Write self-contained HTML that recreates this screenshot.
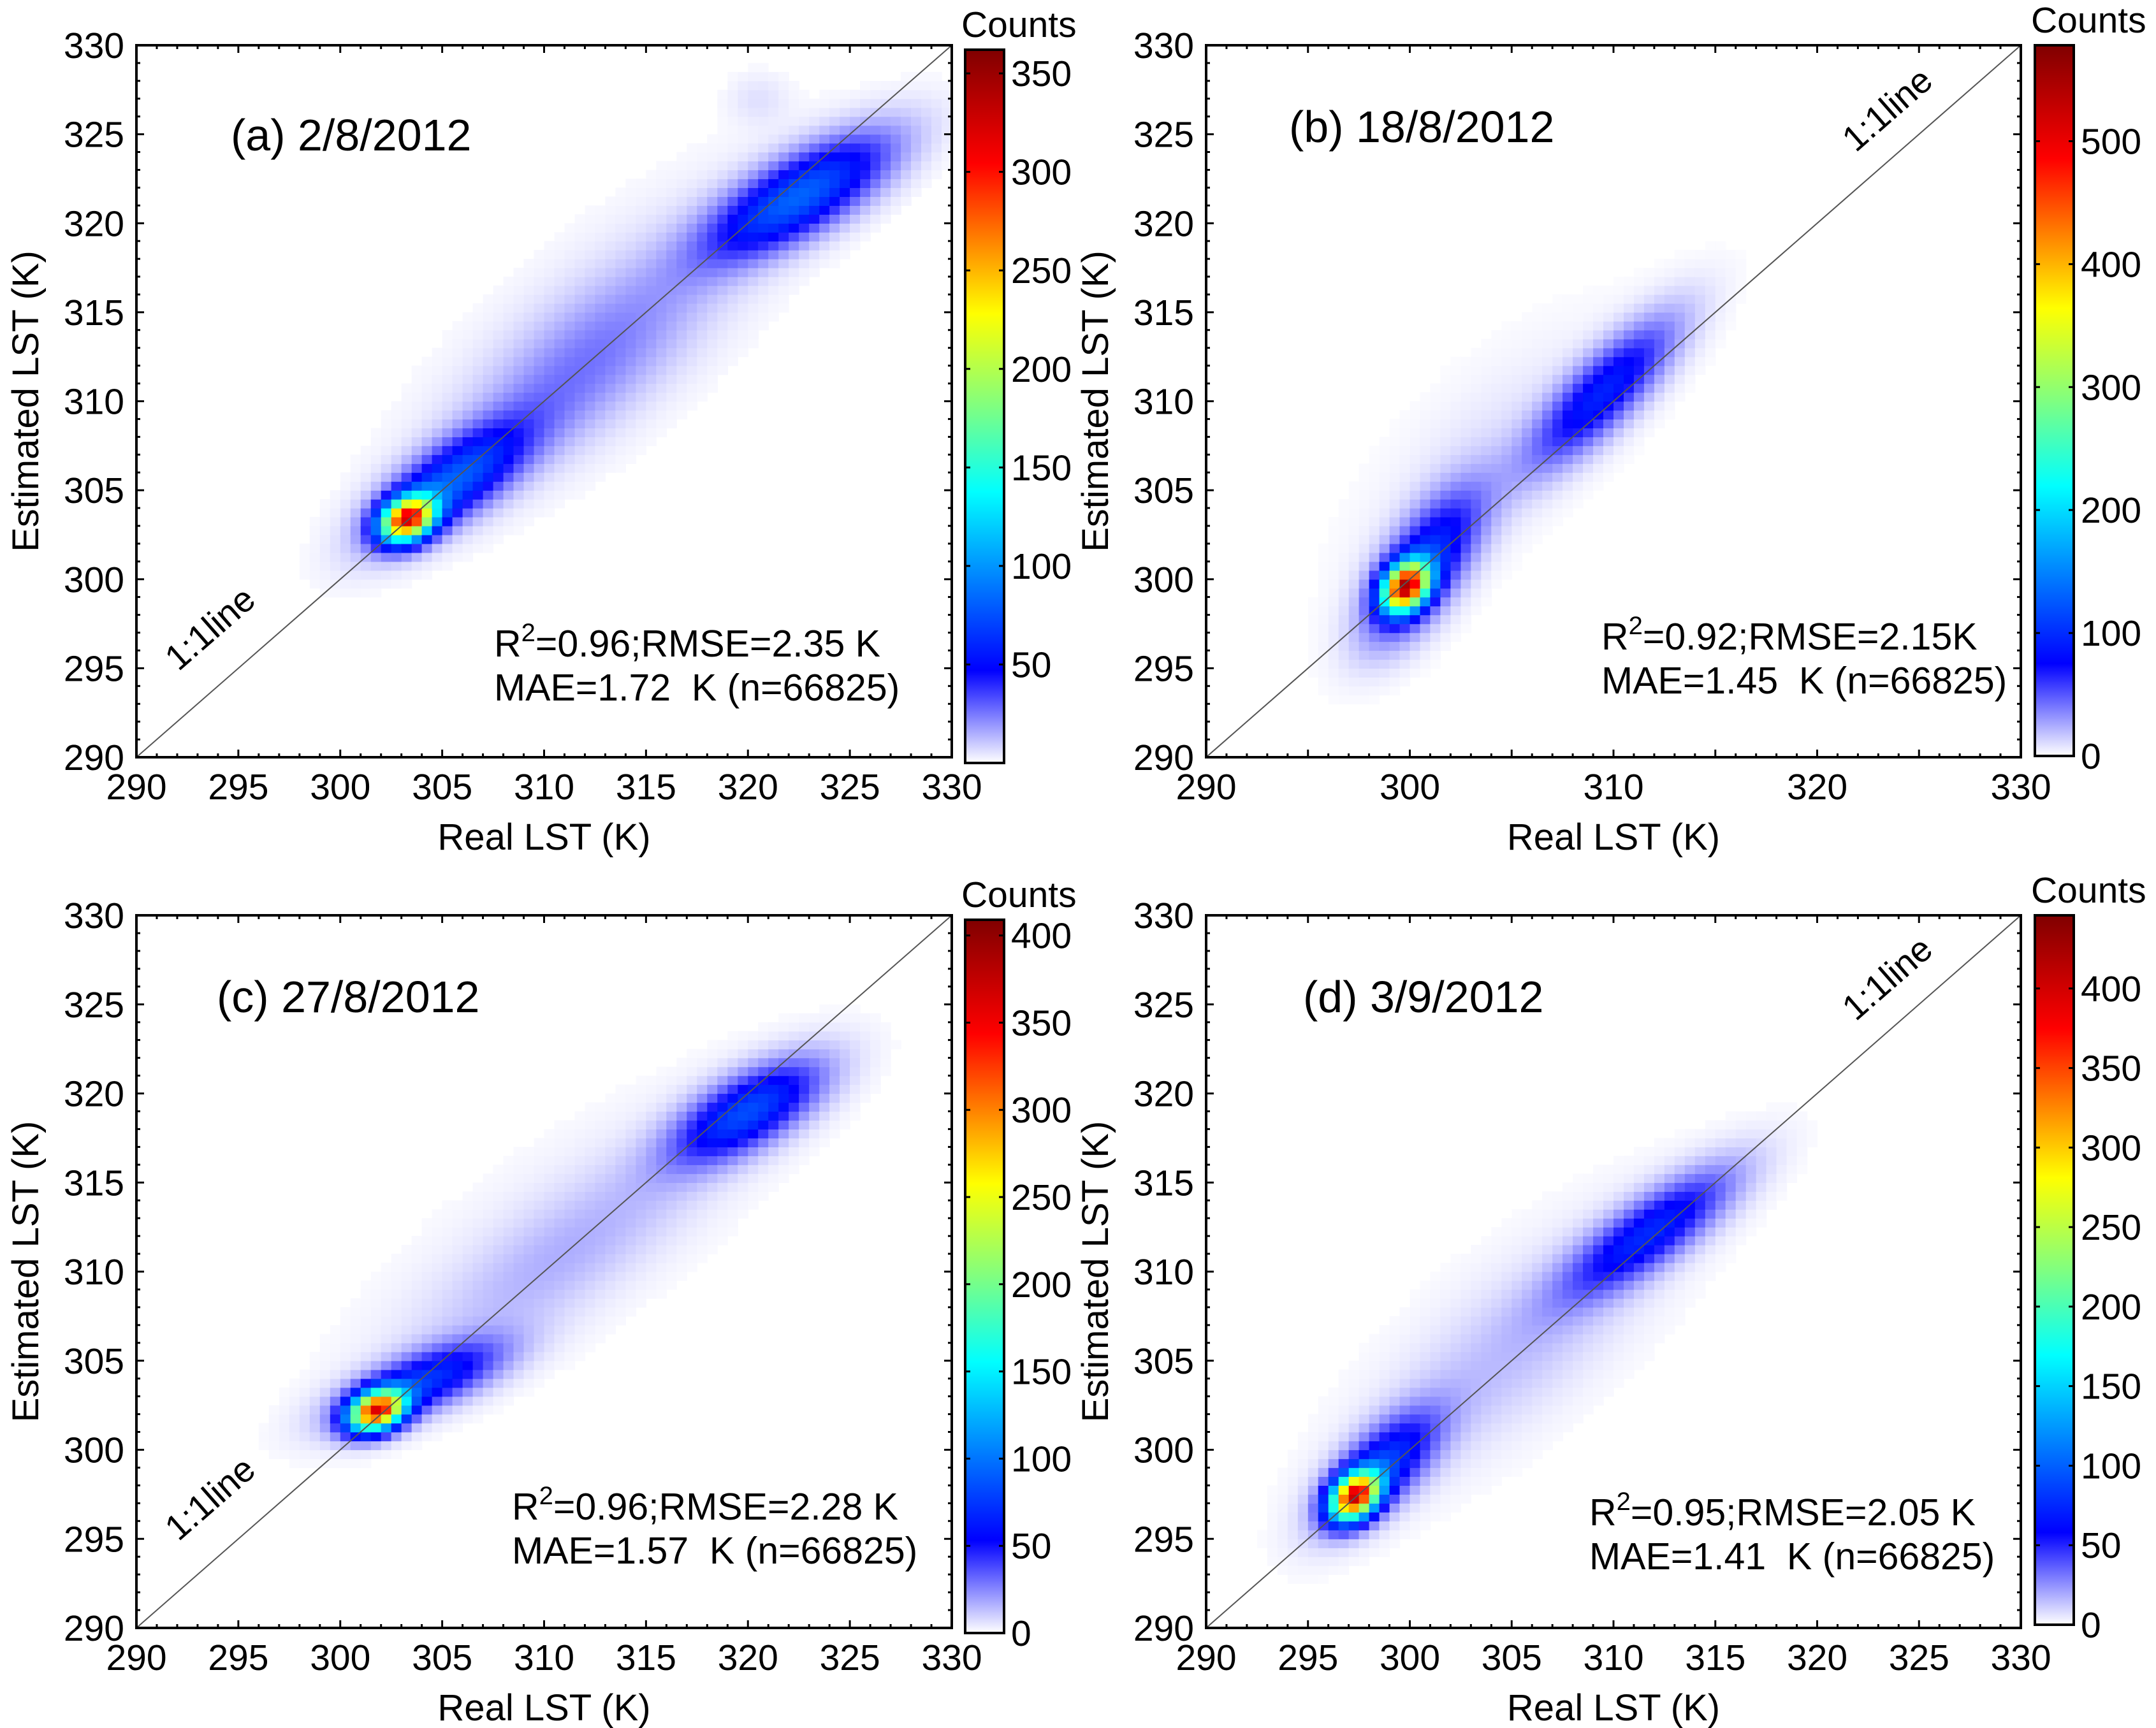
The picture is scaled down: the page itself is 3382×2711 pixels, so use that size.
<!DOCTYPE html>
<html><head><meta charset="utf-8"><style>
html,body{margin:0;padding:0;background:#fff}
svg{display:block;font-family:"Liberation Sans",Arial,sans-serif}
</style></head><body>
<svg id="fig" width="3382" height="2711" viewBox="0 0 3382 2711" xmlns="http://www.w3.org/2000/svg">
<defs>
<linearGradient id="cmap" x1="0" y1="1" x2="0" y2="0">
<stop offset="0" stop-color="#ffffff"/><stop offset="0.13" stop-color="#0000ff"/><stop offset="0.38" stop-color="#00ffff"/><stop offset="0.5" stop-color="#80ff80"/><stop offset="0.63" stop-color="#ffff00"/><stop offset="0.84" stop-color="#ff0000"/><stop offset="1" stop-color="#800000"/>
</linearGradient>
</defs>
</svg>
<script>
// Panel (a) density components: centre x, centre y, peak count, sigma along, sigma across, angle (deg)
const aCx=[303.3,305.5,322.5,312,313,320.5];
const aCy=[303.4,305.5,321.5,312,314,327];
const aAmp=[280,75,80,20,6,5];
const aSa=[1.0,3,3.5,5,9,1];
const aSc=[0.75,1.2,1.3,2,3,1];
const aAng=[40,40,35,45,45,90];
// Panel (b)
const bCx=[299.8,300.8,309.5,304,299.5];
const bCy=[299.6,301,310.5,307,298];
const bAmp=[460,100,90,8,10];
const bSa=[1.0,3,3.5,6,2];
const bSc=[0.7,1.2,1.1,2.5,1.2];
const bAng=[63,60,50,50,60];
// Panel (c)
const cCx=[301.8,304,320,311,311];
const cCy=[302.2,303.8,319,311,312];
const cAmp=[320,70,80,12,5];
const cSa=[1.0,2.8,2.8,6,9];
const cSc=[0.7,1,1.2,1.8,3];
const cAng=[30,25,35,40,40];
// Panel (d)
const dCx=[297.3,298.6,311.8,305,305];
const dCy=[297.4,299,312.2,305.5,306];
const dAmp=[350,80,70,10,5];
const dSa=[1.0,2.5,3.5,6,8];
const dSc=[0.7,1.1,1.1,2,3];
const dAng=[55,50,40,45,45];
// Colorbar tick labels
const aCbTicks=[50,100,150,200,250,300,350];
const bCbTicks=[0,100,200,300,400,500];
const cCbTicks=[0,50,100,150,200,250,300,350,400];
const dCbTicks=[0,50,100,150,200,250,300,350,400];
const aXTicks=[290,295,300,305,310,315,320,325,330];
const bXTicks=[290,300,310,320,330];
const yTicks=[290,295,300,305,310,315,320,325,330];

const NS="http://www.w3.org/2000/svg";
const svg=document.getElementById('fig');
const stops=[[0,255,255,255],[0.13,0,0,255],[0.38,0,255,255],[0.5,128,255,128],[0.63,255,255,0],[0.84,255,0,0],[1,128,0,0]];
function cmap(t){t=Math.max(0,Math.min(1,t));for(let i=1;i<stops.length;i++){if(t<=stops[i][0]){const a=stops[i-1],b=stops[i],f=(t-a[0])/(b[0]-a[0]);return 'rgb('+Math.round(a[1]+f*(b[1]-a[1]))+','+Math.round(a[2]+f*(b[2]-a[2]))+','+Math.round(a[3]+f*(b[3]-a[3]))+')';}}return 'rgb(128,0,0)';}
function el(tag,attrs,parent){const e=document.createElementNS(NS,tag);for(const k in attrs)e.setAttribute(k,attrs[k]);(parent||svg).appendChild(e);return e;}

const panels=[
 {id:'a',px:214,py:71,pw:1279,ph:1117,cbx:1514,cby:78,cbh:1119,cmax:362,cb:aCbTicks,xt:aXTicks,comp:[aCx,aCy,aAmp,aSa,aSc,aAng],title:'(a) 2/8/2012',tx:362,ty:236,s1:'0.96;RMSE=2.35 K',s2:'MAE=1.72\u00a0\u00a0K (n=66825)',sx:775,sy:1030,lx:342,ly:1000},
 {id:'b',px:1892,py:71,pw:1278,ph:1117,cbx:3192,cby:71,cbh:1115,cmax:578,cb:bCbTicks,xt:bXTicks,comp:[bCx,bCy,bAmp,bSa,bSc,bAng],title:'(b) 18/8/2012',tx:2022,ty:223,s1:'0.92;RMSE=2.15K',s2:'MAE=1.45\u00a0\u00a0K (n=66825)',sx:2512,sy:1019,lx:2973,ly:186},
 {id:'c',px:214,py:1436,pw:1279,ph:1118,cbx:1514,cby:1443,cbh:1119,cmax:409,cb:cCbTicks,xt:aXTicks,comp:[cCx,cCy,cAmp,cSa,cSc,cAng],title:'(c) 27/8/2012',tx:340,ty:1588,s1:'0.96;RMSE=2.28 K',s2:'MAE=1.57\u00a0\u00a0K (n=66825)',sx:803,sy:2384,lx:342,ly:2365},
 {id:'d',px:1892,py:1436,pw:1278,ph:1118,cbx:3192,cby:1436,cbh:1113,cmax:446,cb:dCbTicks,xt:aXTicks,comp:[dCx,dCy,dAmp,dSa,dSc,dAng],title:'(d) 3/9/2012',tx:2044,ty:1588,s1:'0.95;RMSE=2.05 K',s2:'MAE=1.41\u00a0\u00a0K (n=66825)',sx:2493,sy:2393,lx:2973,ly:1549}
];

panels.forEach(p=>{
 const X=v=>p.px+(v-290)/40*p.pw;
 const Y=v=>p.py+p.ph-(v-290)/40*p.ph;
 const g=el('g',{});
 
 
 const [cx,cy,amp,sa,sc,ang]=p.comp;
 const hm=el('g',{},g);
 
 
 const bin=0.5,cw=p.pw/80,ch=p.ph/80;
 for(let i=0;i<80;i++){for(let j=0;j<80;j++){
  const x=290+(i+0.5)*bin,y=290+(j+0.5)*bin;let v=0;
  for(let k=0;k<cx.length;k++){const t=ang[k]*Math.PI/180,dx=x-cx[k],dy=y-cy[k];const u=dx*Math.cos(t)+dy*Math.sin(t),w=-dx*Math.sin(t)+dy*Math.cos(t);v+=amp[k]*Math.exp(-0.5*(u*u/(sa[k]*sa[k])+w*w/(sc[k]*sc[k])));}
  if(v<1.2)continue;
  const r=el('rect',{x:X(290+i*bin).toFixed(1),y:Y(290+(j+1)*bin).toFixed(1),width:(cw+0.6).toFixed(1),height:(ch+0.6).toFixed(1),fill:cmap(v/p.cmax)},hm);
  
  
 }}
 const dl=el('line',{x1:X(290),y1:Y(290),x2:X(330),y2:Y(330),stroke:'#555','stroke-width':2},g);
 
 
 const fr=el('rect',{x:p.px,y:p.py,width:p.pw,height:p.ph,fill:'none',stroke:'#000','stroke-width':4},g);
 
 
 let td='';
 for(let v=290;v<=330;v++){const L=(v%5===0)?12:6;const xx=X(v),yy=Y(v);
  td+=`M${xx},${p.py+p.ph}v${-L}M${xx},${p.py}v${L}M${p.px},${yy}h${L}M${p.px+p.pw},${yy}h${-L}`;}
 const tk=el('path',{d:td,stroke:'#000','stroke-width':3,fill:'none'},g);
 
 
 p.xt.forEach(v=>{const t=el('text',{x:X(v),y:p.py+p.ph+66,'font-size':57,'text-anchor':'middle'},g);t.textContent=v;
  
  });
 yTicks.forEach(v=>{const t=el('text',{x:p.px-19,y:Y(v)+20,'font-size':57,'text-anchor':'end'},g);t.textContent=v;
  
  });
 const xt=el('text',{x:p.px+p.pw/2,y:p.py+p.ph+145,'font-size':58,'text-anchor':'middle'},g);xt.textContent='Real LST (K)';
 
 
 const ytx=p.px-154,yty=p.py+p.ph/2;
 const yt=el('text',{x:ytx,y:yty,'font-size':58,'text-anchor':'middle',transform:`rotate(-90 ${ytx} ${yty})`},g);yt.textContent='Estimated LST (K)';
 
 
 const ti=el('text',{x:p.tx,y:p.ty,'font-size':70},g);ti.textContent=p.title;
 
 
 const s1=el('text',{x:p.sx,y:p.sy,'font-size':59},g);
 
 
 const t1=el('tspan',{},s1);t1.textContent='R';
 const t2=el('tspan',{dy:-24,'font-size':40},s1);t2.textContent='2';
 const t3=el('tspan',{dy:24},s1);t3.textContent='='+p.s1;
 const s2=el('text',{x:p.sx,y:p.sy+69,'font-size':59},g);s2.textContent=p.s2;
 
 
 const ang2=-Math.atan(p.ph/p.pw)*180/Math.PI;
 const ll=el('text',{x:p.lx,y:p.ly,'font-size':56,'text-anchor':'middle',transform:`rotate(${ang2} ${p.lx} ${p.ly})`},g);ll.textContent='1:1line';
 
 
 const cb=el('rect',{x:p.cbx,y:p.cby,width:61,height:p.cbh,fill:'url(#cmap)',stroke:'#000','stroke-width':4},g);
 
 
 const cbT=el('text',{x:p.cbx-6,y:p.cby-20,'font-size':57,'text-anchor':'start'},g);cbT.textContent='Counts';
 
 
 p.cb.forEach(v=>{const yy=p.cby+p.cbh-v/p.cmax*p.cbh;
  const tl=el('path',{d:`M${p.cbx},${yy}h8M${p.cbx+61},${yy}h-8`,stroke:'#000','stroke-width':3},g);
  
  
  const t=el('text',{x:p.cbx+72,y:yy+20,'font-size':57},g);t.textContent=v;
  
  });
});
</script>
</body></html>
